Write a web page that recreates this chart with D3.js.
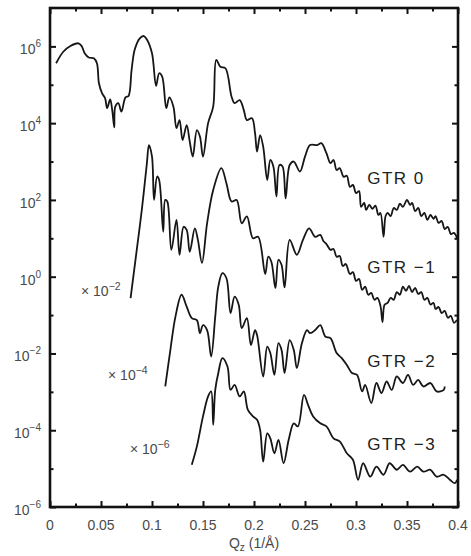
<!DOCTYPE html>
<html>
<head>
<meta charset="utf-8">
<script src="https://cdn.jsdelivr.net/npm/d3@7"></script>
<style>
  html, body { margin: 0; padding: 0; background: #fff; }
  svg { display: block; font-family: "Liberation Sans", Arial, Helvetica, sans-serif; }
</style>
</head>
<body>
<div id="chart"></div>
<script>
// reflectivity curves: Qz (1/Å) and log10 of the raw intensity
const gtr0Q = [0.006, 0.013, 0.020, 0.028, 0.031, 0.034, 0.038, 0.043, 0.046, 0.048, 0.051, 0.054, 0.056, 0.059, 0.061, 0.063, 0.064, 0.067, 0.070, 0.074, 0.077, 0.080, 0.083, 0.088, 0.092, 0.095, 0.100, 0.104, 0.107, 0.110, 0.114, 0.117, 0.121, 0.124, 0.127, 0.130, 0.134, 0.137, 0.140, 0.144, 0.147, 0.150, 0.155, 0.160, 0.163, 0.167, 0.172, 0.178, 0.181, 0.186, 0.190, 0.193, 0.198, 0.201, 0.203, 0.206, 0.209, 0.213, 0.216, 0.219, 0.222, 0.225, 0.228, 0.231, 0.235, 0.239, 0.245, 0.250, 0.255, 0.262, 0.266, 0.271, 0.275, 0.278, 0.281, 0.284, 0.288, 0.291, 0.294, 0.297, 0.300, 0.303, 0.305, 0.308, 0.310, 0.313, 0.316, 0.319, 0.322, 0.324, 0.327, 0.329, 0.331, 0.334, 0.337, 0.340, 0.343, 0.346, 0.350, 0.353, 0.355, 0.358, 0.361, 0.364, 0.367, 0.370, 0.373, 0.376, 0.378, 0.381, 0.384, 0.387, 0.390, 0.393, 0.396, 0.399];
const gtr0LogR = [5.56, 5.86, 6.01, 6.08, 6.01, 5.82, 5.71, 5.69, 5.56, 5.04, 4.78, 4.65, 4.39, 4.62, 4.34, 3.89, 4.43, 4.52, 4.30, 4.67, 4.71, 5.39, 5.91, 6.21, 6.27, 6.18, 5.82, 4.97, 5.30, 5.21, 4.39, 4.67, 4.43, 3.87, 4.08, 3.56, 3.95, 3.52, 3.13, 3.82, 3.65, 3.13, 4.00, 4.43, 5.65, 5.47, 5.43, 4.69, 4.52, 4.60, 4.34, 4.08, 4.13, 3.74, 3.26, 3.69, 3.39, 2.52, 3.04, 2.87, 2.09, 2.91, 2.87, 2.04, 2.91, 3.00, 2.74, 3.13, 3.43, 3.43, 3.48, 3.22, 2.96, 3.04, 2.78, 2.83, 2.60, 2.63, 2.34, 2.39, 2.18, 2.23, 1.82, 1.92, 1.74, 1.87, 1.77, 1.85, 1.61, 1.66, 1.04, 1.58, 1.66, 1.58, 1.79, 1.74, 1.90, 1.82, 2.00, 1.87, 1.92, 1.71, 1.79, 1.58, 1.66, 1.48, 1.61, 1.51, 1.58, 1.40, 1.45, 1.24, 1.30, 1.11, 1.14, 1.01];

const gtr1Q = [0.079, 0.084, 0.090, 0.095, 0.097, 0.100, 0.102, 0.105, 0.107, 0.111, 0.113, 0.115, 0.119, 0.124, 0.127, 0.131, 0.134, 0.137, 0.142, 0.145, 0.149, 0.154, 0.160, 0.168, 0.173, 0.178, 0.183, 0.188, 0.193, 0.199, 0.204, 0.211, 0.214, 0.217, 0.221, 0.224, 0.227, 0.230, 0.235, 0.242, 0.248, 0.254, 0.260, 0.265, 0.268, 0.271, 0.275, 0.278, 0.281, 0.284, 0.287, 0.290, 0.294, 0.297, 0.300, 0.303, 0.306, 0.309, 0.312, 0.315, 0.318, 0.321, 0.324, 0.326, 0.328, 0.331, 0.334, 0.337, 0.340, 0.343, 0.346, 0.349, 0.352, 0.355, 0.358, 0.361, 0.364, 0.367, 0.370, 0.373, 0.376, 0.378, 0.381, 0.384, 0.387, 0.390, 0.393, 0.396, 0.399];
const gtr1LogR = [1.44, 2.48, 3.74, 4.96, 5.43, 5.13, 4.00, 4.61, 4.52, 3.17, 4.00, 3.96, 2.70, 3.48, 2.57, 3.30, 3.22, 2.65, 3.26, 2.96, 2.36, 3.39, 4.26, 4.83, 4.43, 3.96, 4.00, 3.39, 3.57, 3.00, 3.04, 2.07, 2.52, 2.39, 1.70, 2.44, 2.31, 1.72, 2.96, 2.57, 2.96, 3.26, 3.04, 3.09, 2.93, 2.85, 2.70, 2.72, 2.52, 2.54, 2.28, 2.33, 2.07, 2.12, 1.89, 1.94, 1.66, 1.74, 1.53, 1.58, 1.40, 1.45, 1.24, 0.82, 1.27, 1.32, 1.45, 1.40, 1.60, 1.53, 1.74, 1.63, 1.76, 1.60, 1.71, 1.55, 1.60, 1.40, 1.45, 1.27, 1.32, 1.16, 1.21, 1.05, 1.11, 0.93, 0.98, 0.80, 0.87];

const gtr2Q = [0.113, 0.118, 0.123, 0.129, 0.134, 0.139, 0.144, 0.147, 0.150, 0.154, 0.158, 0.162, 0.165, 0.169, 0.173, 0.177, 0.181, 0.185, 0.188, 0.193, 0.197, 0.201, 0.203, 0.209, 0.213, 0.216, 0.220, 0.224, 0.227, 0.230, 0.235, 0.239, 0.242, 0.247, 0.252, 0.255, 0.260, 0.265, 0.270, 0.275, 0.281, 0.286, 0.291, 0.296, 0.301, 0.306, 0.309, 0.315, 0.320, 0.325, 0.330, 0.335, 0.340, 0.346, 0.351, 0.356, 0.361, 0.366, 0.373, 0.379, 0.386, 0.387];
const gtr2LogR = [1.14, 2.09, 2.96, 3.53, 3.22, 2.92, 2.87, 2.53, 2.74, 2.61, 1.92, 2.96, 3.74, 4.09, 3.96, 3.05, 3.48, 3.27, 2.66, 2.92, 2.22, 2.61, 2.48, 1.40, 2.18, 2.01, 1.44, 2.27, 2.09, 1.49, 2.35, 2.09, 1.62, 2.27, 2.61, 2.53, 2.61, 2.74, 2.44, 2.40, 2.01, 1.88, 1.70, 1.49, 1.44, 1.01, 1.18, 0.71, 1.23, 0.97, 1.27, 1.05, 1.40, 1.23, 1.44, 1.18, 1.31, 1.14, 1.23, 1.01, 1.05, 1.14];

const gtr3Q = [0.139, 0.144, 0.150, 0.155, 0.158, 0.160, 0.162, 0.165, 0.169, 0.174, 0.177, 0.181, 0.186, 0.190, 0.194, 0.199, 0.203, 0.206, 0.209, 0.213, 0.216, 0.220, 0.224, 0.229, 0.234, 0.239, 0.243, 0.249, 0.253, 0.258, 0.265, 0.271, 0.278, 0.284, 0.291, 0.297, 0.302, 0.307, 0.314, 0.320, 0.327, 0.333, 0.340, 0.346, 0.353, 0.360, 0.366, 0.373, 0.379, 0.386, 0.392, 0.397, 0.399];
const gtr3LogR = [1.10, 1.58, 2.36, 2.88, 3.01, 2.14, 3.05, 3.49, 3.88, 3.66, 3.05, 3.18, 2.88, 3.01, 2.53, 2.36, 2.27, 2.01, 1.18, 1.92, 1.79, 1.40, 1.75, 1.14, 1.75, 2.18, 2.10, 2.92, 2.66, 2.36, 2.18, 2.10, 1.79, 1.71, 1.40, 1.23, 0.71, 1.14, 0.79, 1.05, 0.84, 1.14, 0.97, 1.10, 0.92, 1.05, 0.92, 0.97, 0.79, 0.84, 0.71, 0.62, 0.71];

const seriesNames = ["GTR 0", "GTR \u22121", "GTR \u22122", "GTR \u22123"];
const seriesScaleExp = [0, -2, -4, -6];

const xTicks = [0, 0.05, 0.1, 0.15, 0.2, 0.25, 0.3, 0.35, 0.4];
const xTickLabels = ["0", "0.05", "0.1", "0.15", "0.2", "0.25", "0.3", "0.35", "0.4"];
const xMinorTicks = [0.025, 0.075, 0.125, 0.175, 0.225, 0.275, 0.325, 0.375];
const yTickExp = [-6, -4, -2, 0, 2, 4, 6];
const yMinorExp = [-5, -3, -1, 1, 3, 5];

main();

function main () {
  /*********************** 1. basic settings ******************/
  const width = 471,
    height = 556;
  const margin = { top: 8, right: 13, bottom: 49, left: 50 };

  const svg = d3
    .select("#chart")
    .append("svg")
    .attr("width", width)
    .attr("height", height)
    .attr("viewBox", `0 0 ${width} ${height}`);

  const series = [
    { q: gtr0Q, logR: gtr0LogR },
    { q: gtr1Q, logR: gtr1LogR },
    { q: gtr2Q, logR: gtr2LogR },
    { q: gtr3Q, logR: gtr3LogR },
  ].map((s, i) => ({
    name: seriesNames[i],
    scaleExp: seriesScaleExp[i],
    values: s.q.map((q, j) => ({ q, r: Math.pow(10, s.logR[j]) })),
  }));

  /******************* 2. render ********************/
  renderChart(svg, width, height, margin, series);
}

function renderChart (root, width, height, margin, series) {
  const scaleX = d3
    .scaleLinear()
    .domain([0, 0.4])
    .range([margin.left, width - margin.right]);
  const scaleY = d3
    .scaleLog()
    .domain([1e-6, 1e7])
    .range([height - margin.bottom, margin.top]);

  const plotW = width - margin.left - margin.right;
  const plotH = height - margin.top - margin.bottom;
  const labelColor = "#4a4a4a";

  // curves
  const line = d3
    .line()
    .x((d) => scaleX(d.q))
    .y((d) => d.y)
    .curve(d3.curveCatmullRom.alpha(0.5));

  root
    .append("g")
    .attr("class", "curves")
    .selectAll("path")
    .data(series)
    .join("path")
    .attr("fill", "none")
    .attr("stroke", "#161616")
    .attr("stroke-width", 1.8)
    .attr("stroke-linejoin", "round")
    .attr("d", (s) =>
      line(s.values.map((d) => ({ q: d.q, y: scaleY(d.r * Math.pow(10, s.scaleExp)) })))
    );

  // ticks, all pointing inward
  const tickStyle = (g) => {
    g.select(".domain").remove();
    g.selectAll(".tick line").attr("stroke", "#111").attr("stroke-width", 2);
    g.selectAll(".tick text").remove();
  };
  const addX = (axis, y, size, values) =>
    root
      .append("g")
      .attr("transform", `translate(0, ${y})`)
      .call(axis(scaleX).tickValues(values).tickSize(size).tickFormat(""))
      .call(tickStyle);
  addX(d3.axisBottom, height - margin.bottom, -6, xTicks);
  addX(d3.axisBottom, height - margin.bottom, -3.5, xMinorTicks);
  addX(d3.axisTop, margin.top, -6, xTicks);
  addX(d3.axisTop, margin.top, -3.5, xMinorTicks);

  const addY = (axis, x, size, exps) =>
    root
      .append("g")
      .attr("transform", `translate(${x}, 0)`)
      .call(axis(scaleY).tickValues(exps.map((e) => Math.pow(10, e))).tickSize(size).tickFormat(""))
      .call(tickStyle);
  addY(d3.axisLeft, margin.left, -6, yTickExp);
  addY(d3.axisLeft, margin.left, -3.5, yMinorExp);
  addY(d3.axisRight, width - margin.right, -6, yTickExp);
  addY(d3.axisRight, width - margin.right, -3.5, yMinorExp);

  // frame
  root
    .append("rect")
    .attr("x", margin.left)
    .attr("y", margin.top)
    .attr("width", plotW)
    .attr("height", plotH)
    .attr("fill", "none")
    .attr("stroke", "#111")
    .attr("stroke-width", 2.6);

  // x tick labels
  root
    .append("g")
    .selectAll("text")
    .data(xTicks)
    .join("text")
    .attr("x", (d) => scaleX(d))
    .attr("y", height - margin.bottom + 23)
    .attr("text-anchor", "middle")
    .attr("font-size", "14px")
    .attr("fill", labelColor)
    .text((d, i) => xTickLabels[i]);

  // y tick labels: 10^n
  const yLabels = root
    .append("g")
    .selectAll("text")
    .data(yTickExp)
    .join("text")
    .attr("x", margin.left - 9)
    .attr("y", (d) => scaleY(Math.pow(10, d)) + 8)
    .attr("text-anchor", "end")
    .attr("font-size", "14px")
    .attr("fill", labelColor);
  yLabels.append("tspan").text("10");
  yLabels
    .append("tspan")
    .attr("dy", -7)
    .attr("font-size", "10px")
    .text((d) => String(d).replace("-", "\u2212"));

  // x axis title
  const title = root
    .append("text")
    .attr("x", scaleX(0.2))
    .attr("y", height - 8)
    .attr("text-anchor", "middle")
    .attr("font-size", "14px")
    .attr("fill", labelColor);
  title.append("tspan").text("Q");
  title.append("tspan").attr("dy", 3).attr("font-size", "10px").text("z");
  title.append("tspan").attr("dy", -3).text(" (1/\u00c5)");

  // series names, to the right of each curve
  const nameAnchors = [
    { q: 0.311, logY: 2.42 },
    { q: 0.311, logY: 0.1 },
    { q: 0.311, logY: -2.35 },
    { q: 0.311, logY: -4.51 },
  ];
  root
    .append("g")
    .selectAll("text")
    .data(series)
    .join("text")
    .attr("x", (d, i) => scaleX(nameAnchors[i].q))
    .attr("y", (d, i) => scaleY(Math.pow(10, nameAnchors[i].logY)))
    .attr("font-size", "17px")
    .attr("letter-spacing", "1.5px")
    .attr("fill", "#222")
    .text((d) => d.name);

  // scale factors at the start of each shifted curve
  const factorAnchors = [
    { q: 0.0304, logY: -0.51 },
    { q: 0.0569, logY: -2.69 },
    { q: 0.0784, logY: -4.61 },
  ];
  const factors = root
    .append("g")
    .selectAll("text")
    .data(series.slice(1))
    .join("text")
    .attr("x", (d, i) => scaleX(factorAnchors[i].q))
    .attr("y", (d, i) => scaleY(Math.pow(10, factorAnchors[i].logY)))
    .attr("font-size", "14px")
    .attr("fill", labelColor);
  factors.append("tspan").text("\u00d7 10");
  factors
    .append("tspan")
    .attr("dy", -6)
    .attr("font-size", "10.5px")
    .text((d) => "\u2212" + Math.abs(d.scaleExp));
}
</script>
</body>
</html>
